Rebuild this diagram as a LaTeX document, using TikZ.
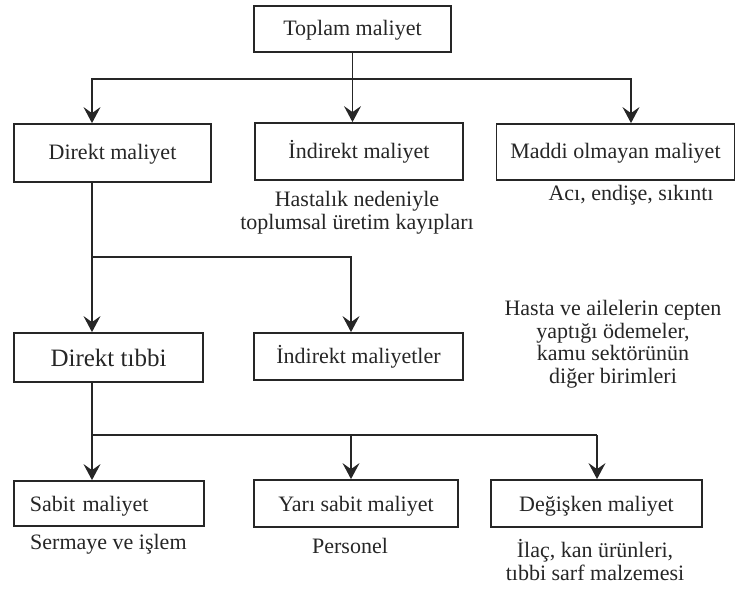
\documentclass[tikz,border=0pt]{standalone}
\usepackage{fontspec}
\setmainfont{Liberation Serif}
\usetikzlibrary{arrows.meta}
\newcommand\dgfont{\fontsize{22}{22.5}\selectfont}
\newcommand\dgbig{\fontsize{25}{26}\selectfont}
\begin{document}
\begin{tikzpicture}[x=1pt,y=-1pt,
  box/.style={draw=black!85, line width=1.8pt, inner sep=0pt, text height=16pt, text depth=3pt, font=\dgfont, text=black!85},
  lbl/.style={align=center, font=\dgfont, inner sep=0pt, text=black!85},
  conn/.style={draw=black!85, line width=1.3pt},
  arr/.style={conn, -{Stealth[length=16pt, width=17pt, inset=6pt]}},
  darr/.style={conn, {Stealth[length=16pt, width=17pt, inset=6pt]}-{Stealth[length=16pt, width=17pt, inset=6pt]}}]
\useasboundingbox (0,0) rectangle (737,590);
% boxes
\node[box, minimum width=197pt, minimum height=46pt] (top) at (352.5,29) {Toplam maliyet};
\node[box, minimum width=197pt, minimum height=58pt] (dm) at (112.5,153) {Direkt maliyet};
\node[box, minimum width=208pt, minimum height=57pt] (im) at (359,151.5) {İndirekt maliyet};
\node[box, minimum width=238pt, minimum height=56pt] (mo) at (615.5,152) {Maddi olmayan maliyet};
\node[box, minimum width=189pt, minimum height=49pt, font=\dgbig, text height=18pt, text depth=0pt] (dt) at (108.5,357.5) {Direkt tıbbi};
\node[box, minimum width=209pt, minimum height=47pt] (ims) at (358.5,356.5) {İndirekt maliyetler};
\node[box, minimum height=45pt, text width=158pt, inner xsep=16pt, align=left, text depth=0pt] (sm) at (109,503.5) {Sabit maliyet};
\node[box, minimum width=204pt, minimum height=47pt, text depth=0pt] (ys) at (356,503.5) {Yarı sabit maliyet};
\node[box, minimum width=211pt, minimum height=47pt, text depth=0pt] (dg) at (596.5,503.5) {Değişken maliyet};
% labels (anchor base = baseline of last line)
\node[lbl, anchor=base] (l1) at (357,229) {Hastalık nedeniyle\\toplumsal üretim kayıpları};
\node[lbl, anchor=base] (l2) at (631,200) {Acı, endişe, sıkıntı};
\node[lbl, anchor=base] (l3) at (613,383) {Hasta ve ailelerin cepten\\yaptığı ödemeler,\\kamu sektörünün\\diğer birimleri};
\node[lbl, anchor=base west] (l4) at (30,549) {Sermaye ve işlem};
\node[lbl, anchor=base] (l5) at (350,553) {Personel};
\node[lbl, anchor=base] (l6) at (595,580) {İlaç, kan ürünleri,\\tıbbi sarf malzemesi};
% connector coordinates
\coordinate (h1L) at (92,79);
\coordinate (h1R) at (631,79);
\coordinate (h2L) at (92,257);
\coordinate (h2R) at (351,257);
\coordinate (h3L) at (92,435);
\coordinate (h3M) at (351,435);
\coordinate (h3R) at (597,435);
% connectors
\draw[conn] (top.south) -- (top.south |- h1L);
\draw[darr] (h1L |- dm.north) -- (h1L) -- (h1R) -- (h1R |- mo.north);
\draw[arr] (top.south |- h1L) -- (top.south |- im.north);
\draw[arr] (h1L |- dm.south) -- (h1L |- dt.north);
\draw[arr] (h2L) -- (h2R) -- (h2R |- ims.north);
\draw[arr] (h1L |- dt.south) -- (h1L |- sm.north);
\draw[conn] (h3L) -- (h3R);
\draw[arr] (h3M) -- (h3M |- ys.north);
\draw[arr] (h3R) -- (h3R |- dg.north);
\end{tikzpicture}
\end{document}
